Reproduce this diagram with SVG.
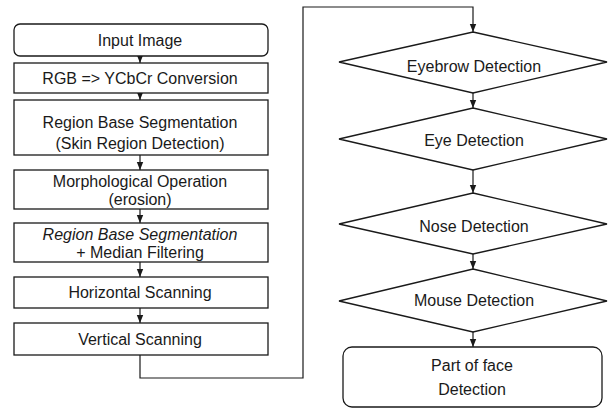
<svg xmlns="http://www.w3.org/2000/svg" width="610" height="418" viewBox="0 0 610 418">
<defs>
<marker id="ah" viewBox="0 0 8 8" refX="8" refY="4" markerWidth="8" markerHeight="8" markerUnits="userSpaceOnUse" orient="auto">
<path d="M0,0.8 L8,4 L0,7.2 Z" fill="#1a1a1a"/>
</marker>
<style>
.b{fill:#fff;stroke:#1a1a1a;stroke-width:1.3}
.t{font-family:"Liberation Sans",Arial,sans-serif;font-size:16px;fill:#1a1a1a;text-anchor:middle}
.c{fill:none;stroke:#1a1a1a;stroke-width:1.2}
</style>
</defs>
<rect width="610" height="418" fill="#fff"/>
<g id="connectors">
<line class="c" x1="140" y1="56" x2="140" y2="63" marker-end="url(#ah)"/>
<line class="c" x1="140" y1="93" x2="140" y2="100" marker-end="url(#ah)"/>
<line class="c" x1="140" y1="155" x2="140" y2="170" marker-end="url(#ah)"/>
<line class="c" x1="140" y1="209" x2="140" y2="223" marker-end="url(#ah)"/>
<line class="c" x1="140" y1="262" x2="140" y2="277" marker-end="url(#ah)"/>
<line class="c" x1="140" y1="308" x2="140" y2="323" marker-end="url(#ah)"/>
<polyline class="c" points="140,355 140,378 303,378 303,7 473,7 473,32" marker-end="url(#ah)"/>
<line class="c" x1="473" y1="93" x2="473" y2="108" marker-end="url(#ah)"/>
<line class="c" x1="473" y1="170" x2="473" y2="193" marker-end="url(#ah)"/>
<line class="c" x1="473" y1="254" x2="473" y2="269" marker-end="url(#ah)"/>
<line class="c" x1="473" y1="332" x2="473" y2="347" marker-end="url(#ah)"/>
</g>
<g id="input-image">
<rect class="b" x="14" y="24" width="254" height="32" rx="6"/>
<text class="t" x="140" y="46">Input Image</text>
</g>
<g id="rgb-ycbcr">
<rect class="b" x="14" y="63" width="254" height="30"/>
<text class="t" x="140" y="84">RGB =&gt; YCbCr Conversion</text>
</g>
<g id="region-base-seg">
<rect class="b" x="14" y="100" width="254" height="55"/>
<text class="t" x="140" y="128">Region Base Segmentation</text>
<text class="t" x="140" y="149">(Skin Region Detection)</text>
</g>
<g id="morph">
<rect class="b" x="14" y="170" width="254" height="39"/>
<text class="t" x="140" y="187">Morphological Operation</text>
<text class="t" x="140" y="205">(erosion)</text>
</g>
<g id="region-median">
<rect class="b" x="14" y="223" width="254" height="39"/>
<text class="t" x="140" y="240" font-style="italic">Region Base Segmentation</text>
<text class="t" x="140" y="258">+ Median Filtering</text>
</g>
<g id="horizontal">
<rect class="b" x="14" y="277" width="254" height="31"/>
<text class="t" x="140" y="298">Horizontal Scanning</text>
</g>
<g id="vertical">
<rect class="b" x="14" y="323" width="254" height="32"/>
<text class="t" x="140" y="345">Vertical Scanning</text>
</g>
<g id="eyebrow">
<polygon class="b" points="473,32 607,62 473,93 339,62"/>
<text class="t" x="474" y="72">Eyebrow Detection</text>
</g>
<g id="eye">
<polygon class="b" points="473,108 607,139 473,170 339,139"/>
<text class="t" x="474" y="146">Eye Detection</text>
</g>
<g id="nose">
<polygon class="b" points="473,193 607,224 473,254 339,224"/>
<text class="t" x="474" y="232">Nose Detection</text>
</g>
<g id="mouse">
<polygon class="b" points="473,269 607,301 473,332 339,301"/>
<text class="t" x="474" y="306">Mouse Detection</text>
</g>
<g id="part-of-face">
<rect class="b" x="343" y="347" width="259" height="60" rx="9"/>
<text class="t" x="472" y="371">Part of face</text>
<text class="t" x="472" y="395">Detection</text>
</g>
</svg>
